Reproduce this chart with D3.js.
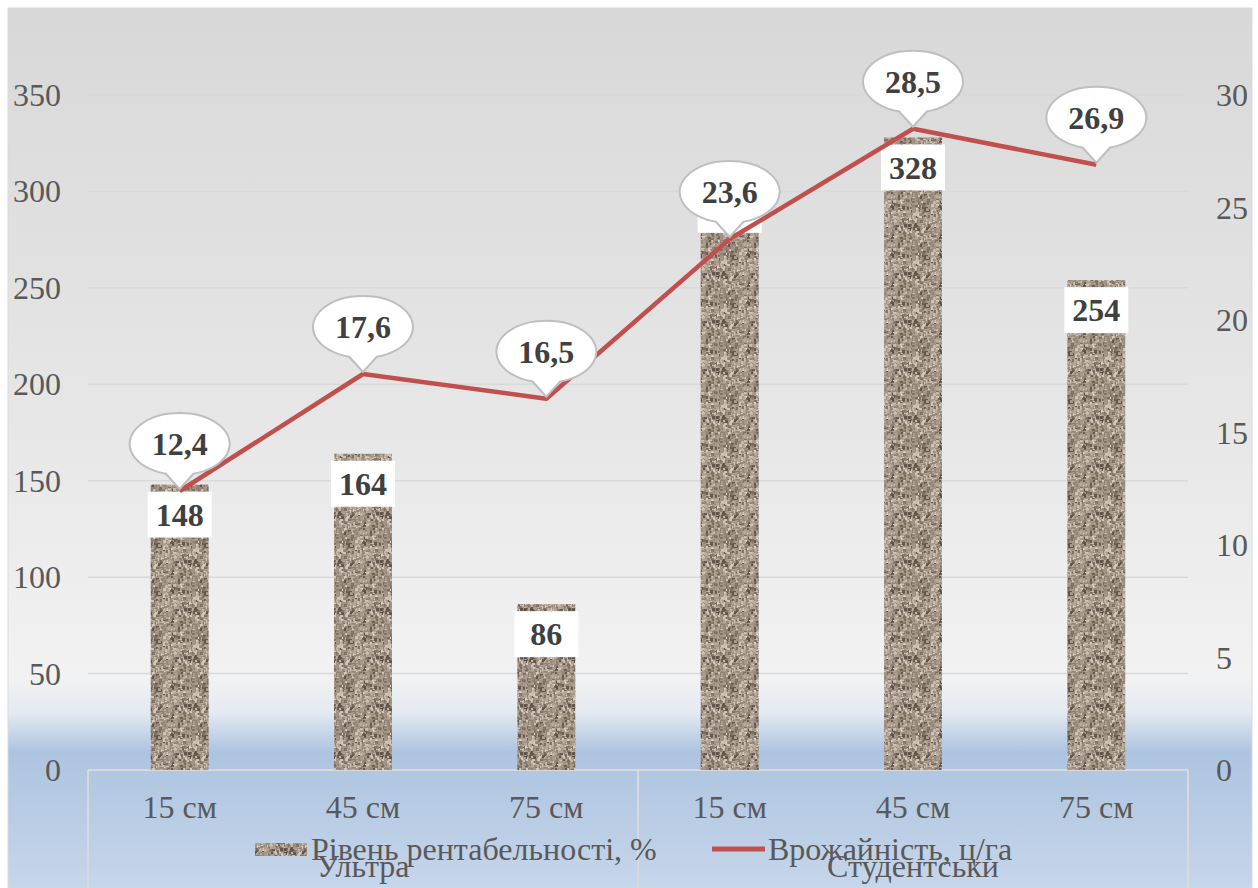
<!DOCTYPE html>
<html><head><meta charset="utf-8">
<script src="https://cdn.jsdelivr.net/npm/d3@7"></script>
<style>html,body{margin:0;padding:0;background:#fff}svg{display:block}
svg text{font-family:"Liberation Serif" !important}</style>
</head><body><svg id="c" width="1258" height="888"></svg>
<script>
const categories = ["15 см","45 см","75 см","15 см","45 см","75 см"];
const groups = ["Ультра","Студентськи"];
const profitability = [148,164,86,306,328,254];
const yieldVals = [12.4,17.6,16.5,23.6,28.5,26.9];
const yieldLabels = ["12,4","17,6","16,5","23,6","28,5","26,9"];
const leftTicks = [0,50,100,150,200,250,300,350];
const rightTicks = [0,5,10,15,20,25,30];
const seriesNames = ["Рівень рентабельності, %","Врожайність, ц/га"];

const svg = d3.select("#c");
const W=1258,H=888;
const L=88,R=1188,T=95,B=770;
const FS=32;

const defs=svg.append("defs");
const bg=defs.append("linearGradient").attr("id","bg").attr("x1",0).attr("y1",0).attr("x2",0).attr("y2",1);
[[0,"#d8d8d8"],[0.45,"#e6e6e6"],[0.76,"#f2f2f2"],[0.80,"#e4eaf1"],[0.845,"#adc4e1"],[0.9,"#b6cae3"],[1,"#c6d6eb"]].forEach(s=>bg.append("stop").attr("offset",s[0]).attr("stop-color",s[1]));

// deterministic speckle texture
const pat=defs.append("pattern").attr("id","tex").attr("patternUnits","userSpaceOnUse").attr("width",48).attr("height",48);
pat.append("rect").attr("width",48).attr("height",48).attr("fill","#a29385");
const cols=["#8f8074","#bcae9f","#cfc3b6","#7a6c61","#b0a192","#5c4f47","#d9cfc4","#978879","#ab9c8d"];
function h(i){const x=Math.sin(i*12.9898+78.233)*43758.5453;return x-Math.floor(x);}
for(let i=0;i<700;i++){
  const x=Math.floor(h(i)*48),y=Math.floor(h(i+1000)*48),c=cols[Math.floor(h(i+2000)*cols.length)];
  const w=2+Math.floor(h(i+3000)*2),hh=2+Math.floor(h(i+4000)*2);
  pat.append("rect").attr("x",x).attr("y",y).attr("width",w).attr("height",hh).attr("fill",c).attr("opacity",0.85);
}

svg.append("rect").attr("x",8).attr("y",8).attr("width",1244).attr("height",880).attr("fill","url(#bg)").attr("stroke","#d9d9d9");

const x=d3.scaleBand().domain(d3.range(categories.length)).range([L,R]).paddingInner(0.684).paddingOuter(0.342);
const yL=d3.scaleLinear().domain([0,350]).range([B,T]);
const yR=d3.scaleLinear().domain([0,30]).range([B,T]);

// gridlines
svg.append("g").selectAll("line").data(leftTicks.slice(1)).join("line")
 .attr("x1",L).attr("x2",R).attr("y1",d=>yL(d)).attr("y2",d=>yL(d)).attr("stroke","#d9d9d9").attr("stroke-width",1.5);

// axes
const axL=svg.append("g").attr("transform",`translate(${L-27},0)`).call(d3.axisLeft(yL).tickValues(leftTicks).tickSize(0).tickPadding(0));
const axR=svg.append("g").attr("transform",`translate(${R+28},0)`).call(d3.axisRight(yR).tickValues(rightTicks).tickSize(0).tickPadding(0));
[axL,axR].forEach(a=>{a.attr("font-family",null);a.select(".domain").remove();a.selectAll("text").attr("font-size",FS).attr("fill","#595959").attr("dy","0.33em");});

// category axis box
const cg=svg.append("g").attr("stroke","#d9d9d9").attr("stroke-width",2);
cg.append("line").attr("x1",L).attr("x2",R).attr("y1",B).attr("y2",B);
[L,(L+R)/2,R].forEach(v=>cg.append("line").attr("x1",v).attr("x2",v).attr("y1",B).attr("y2",H));

// bars
svg.append("g").selectAll("rect").data(profitability).join("rect")
 .attr("x",(d,i)=>x(i)).attr("width",x.bandwidth()).attr("y",d=>yL(d)).attr("height",d=>B-yL(d)).attr("fill","url(#tex)");

// category labels
svg.append("g").selectAll("text").data(categories).join("text")
 .attr("x",(d,i)=>x(i)+x.bandwidth()/2).attr("y",818).attr("text-anchor","middle")
 .attr("font-size",FS).attr("fill","#595959").text(d=>d);

// group labels
svg.append("g").selectAll("text").data(groups).join("text")
 .attr("x",(d,i)=>(x(i*3)+x(i*3+2)+x.bandwidth())/2).attr("y",877).attr("text-anchor","middle")
 .attr("font-size",FS).attr("fill","#595959").text(d=>d);

// bar labels
const bl=svg.append("g").selectAll("g").data(profitability).join("g")
 .attr("transform",(d,i)=>`translate(${x(i)+x.bandwidth()/2},${yL(d)+30})`);
bl.append("rect").attr("x",-32).attr("y",-23).attr("width",64).attr("height",46).attr("fill","#fff");
bl.append("text").attr("text-anchor","middle").attr("dy","0.35em").attr("font-weight","bold").attr("font-size",32).attr("fill","#404040").text(d=>d);

// line
const line=d3.line().x((d,i)=>x(i)+x.bandwidth()/2).y(d=>yR(d));
svg.append("path").datum(yieldVals).attr("d",line).attr("fill","none").attr("stroke","#c0504d").attr("stroke-width",4.5).attr("stroke-linejoin","round");

// callouts
const co=svg.append("g").selectAll("g").data(yieldVals).join("g")
 .attr("transform",(d,i)=>`translate(${x(i)+x.bandwidth()/2},${yR(d)})`);
co.append("path").attr("d",()=>{
  const cy=-47,rx=50,ry=31;
  const a1=Math.PI/2+0.28,a2=Math.PI/2-0.28;
  const p1=[rx*Math.cos(a1),cy+ry*Math.sin(a1)],p2=[rx*Math.cos(a2),cy+ry*Math.sin(a2)];
  return `M${p2[0]},${p2[1]} L0,-2 L${p1[0]},${p1[1]} A${rx},${ry} 0 1 1 ${p2[0]},${p2[1]} Z`;
}).attr("fill","#fff").attr("stroke","#bfbfbf").attr("stroke-width",2);
co.append("text").attr("y",-47).attr("dy","0.35em").attr("text-anchor","middle").attr("font-weight","bold").attr("font-size",32).attr("fill","#404040").text((d,i)=>yieldLabels[i]);

// legend
const lg=svg.append("g").attr("font-size",FS).attr("fill","#595959");
lg.append("rect").attr("x",255).attr("y",843).attr("width",52).attr("height",13).attr("fill","url(#tex)");
lg.append("text").attr("x",311).attr("y",860).text(seriesNames[0]);
lg.append("line").attr("x1",712).attr("x2",765).attr("y1",849).attr("y2",849).attr("stroke","#c0504d").attr("stroke-width",5);
lg.append("text").attr("x",768).attr("y",860).text(seriesNames[1]);
</script></body></html>
